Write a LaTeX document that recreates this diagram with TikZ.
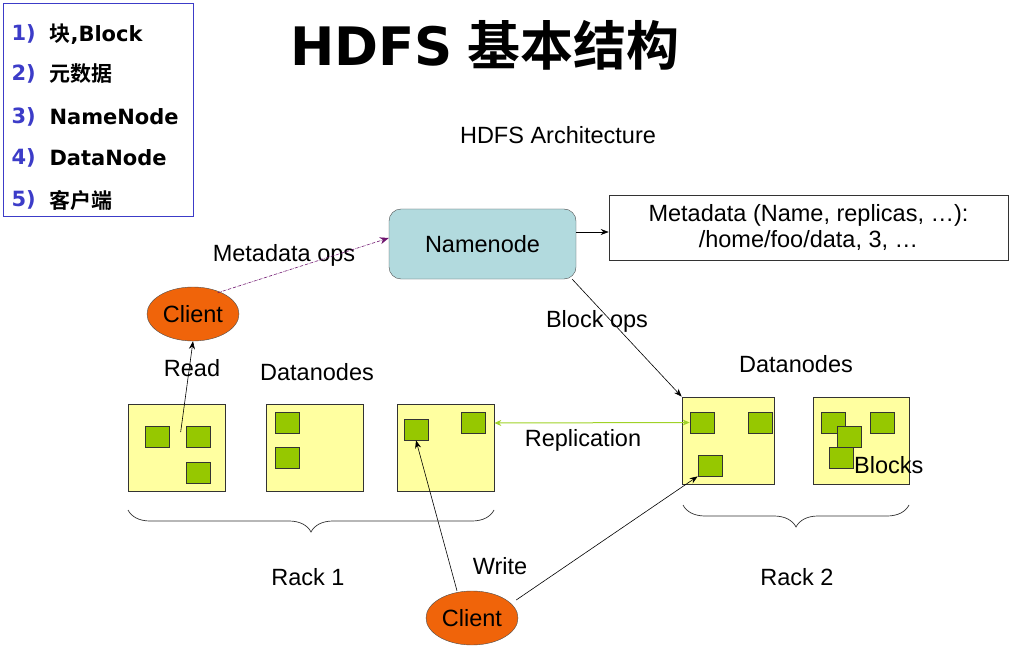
\documentclass[tikz,border=0pt]{standalone}
\usepackage{fontspec}
\setmainfont{Liberation Sans}
\newfontfamily\cjk{Noto Sans CJK SC}[BoldFont={* Bold}]
\newfontfamily\dv{DejaVu Sans}
\usetikzlibrary{shapes.geometric,arrows.meta,decorations.pathreplacing}
\definecolor{dnfill}{RGB}{255,255,160}
\definecolor{blk}{RGB}{150,200,0}
\definecolor{nnfill}{RGB}{178,218,222}
\definecolor{cl}{RGB}{240,100,10}
\definecolor{lg}{RGB}{60,60,200}
\definecolor{rep}{RGB}{160,210,40}
\definecolor{mop}{RGB}{110,20,110}
\begin{document}
\begin{tikzpicture}[x=1pt,y=-1pt,
  dn/.style={draw=black!80,fill=dnfill,line width=0.7pt},
  bk/.style={draw=black!80,fill=blk,line width=0.7pt},
  lbl/.style={font=\fontsize{23.5}{26}\selectfont},
  cli/.style={ellipse,draw=black!70,fill=cl,minimum width=92pt,minimum height=54pt,inner sep=0pt,font=\fontsize{23.5}{26}\selectfont},
  arr/.style={-{Stealth[length=8pt,width=6pt]},line width=0.6pt},
  num/.style={anchor=west,text=lg,font=\dv\bfseries\fontsize{21}{23}\selectfont},
  itm/.style={anchor=west,font=\bfseries\fontsize{21}{23}\selectfont},
  br/.style={decorate,decoration={brace,mirror,amplitude=22pt},line width=0.7pt,draw=black!80}]
\useasboundingbox (0,0) rectangle (1014,668);
% legend
\draw[lg,line width=0.8pt] (3,3) rectangle (193,216);
\node[num] (n1) at (8,34) {1)};\node[itm] (i1) at (46,34) {{\cjk 块}{\dv ,Block}};
\node[num] (n2) at (8,74) {2)};\node[itm] (i2) at (46,74) {\cjk 元数据};
\node[num] (n3) at (8,117) {3)};\node[itm] (i3) at (46,117) {\dv NameNode};
\node[num] (n4) at (8,158) {4)};\node[itm] (i4) at (46,158) {\dv DataNode};
\node[num] (n5) at (8,200) {5)};\node[itm] (i5) at (46,200) {\cjk 客户端};
% titles
\node[font=\bfseries\fontsize{53}{56}\selectfont] (title) at (485,45) {{\dv HDFS} {\cjk 基本结构}};
\node[lbl] (arch) at (558,135) {HDFS Architecture};
% namenode
\node[draw=black!70,fill=nnfill,rounded corners=12pt,minimum width=187pt,minimum height=70pt,lbl] (nn) at (482.5,244) {Namenode};
\node[draw=black!80,line width=0.6pt,minimum width=399pt,minimum height=65pt,align=center,lbl,inner sep=0pt] (meta) at (808.5,227.5) {Metadata (Name, replicas, \dots):\\/home/foo/data, 3, \dots};
\draw[arr] (nn.east|-0,232) -- (meta.west|-0,232);
% clients
\node[cli] (c1) at (193,314) {Client};
\node[cli] (c2) at (472,618) {Client};
% datanodes
\node[dn,minimum width=97pt,minimum height=87pt,inner sep=0pt] (d1) at (176.5,447.5) {};
\node[dn,minimum width=97pt,minimum height=87pt,inner sep=0pt] (d2) at (314.5,447.5) {};
\node[dn,minimum width=97pt,minimum height=87pt,inner sep=0pt] (d3) at (445.5,447.5) {};
\node[dn,minimum width=92pt,minimum height=87pt,inner sep=0pt] (d4) at (728,440.5) {};
\node[dn,minimum width=96pt,minimum height=87pt,inner sep=0pt] (d5) at (861,440.5) {};
\tikzset{b/.style={bk,minimum width=24pt,minimum height=21pt,inner sep=0pt}}
\node[b] (b11) at (157,437) {};
\node[b] (b12) at (198,437) {};
\node[b] (b13) at (198,472.5) {};
\node[b] (b21) at (287,423) {};
\node[b] (b22) at (287,458) {};
\node[b] (b31) at (416,429.5) {};
\node[b] (b32) at (473.5,422.5) {};
\node[b] (b41) at (702,422.5) {};
\node[b] (b42) at (760,422.5) {};
\node[b] (b43) at (710,465.5) {};
\node[b] (b51) at (833,422.5) {};
\node[b] (b52) at (882,422.5) {};
\node[b] (b53) at (849,437) {};
\node[b] (b54) at (841,457.5) {};
\node[lbl,anchor=west,inner sep=0pt] (blocks) at (854,465) {Blocks};
% labels
\node[lbl] (mops) at (284,255) {Metadata ops};
\node[lbl] (read) at (192,368) {Read};
\node[lbl] (dns1) at (317,372) {Datanodes};
\node[lbl] (dns2) at (796,364) {Datanodes};
\node[lbl] (bops) at (597,321) {Block ops};
\node[lbl] (repl) at (583,440) {Replication};
\node[lbl] (write) at (500,566) {Write};
\node[lbl] (r1) at (308,577) {Rack 1};
\node[lbl] (r2) at (797,577) {Rack 2};
% connectors
\draw[mop,densely dash dot,line width=0.6pt,-{Stealth[length=9pt,width=7pt]}] (c1.north east) ++(-8,-2) coordinate (m0) (m0) -- (nn.west|-0,238);
\draw[arr] (b12.north west) ++(-5,6) coordinate (r0) (r0) -- (c1.south);
\draw[arr] (nn.south east) ++(-4,0) coordinate (k0) (k0) -- (d4.north west);
\draw[rep,line width=1pt,{Stealth[length=7pt,width=6pt]}-{Stealth[length=7pt,width=6pt]}] (d3.east|-0,423) -- (b41.west);
\draw[arr] (c2.north) ++(-15,0) coordinate (w0) (w0) -- (b31.south);
\draw[arr] (c2.east) ++(-2,-18) coordinate (w1) (w1) -- (b43.south west);
% braces
\draw[br] (128,510) -- (494,510);
\draw[br] (683,505) -- (909,505);
\end{tikzpicture}
\end{document}
